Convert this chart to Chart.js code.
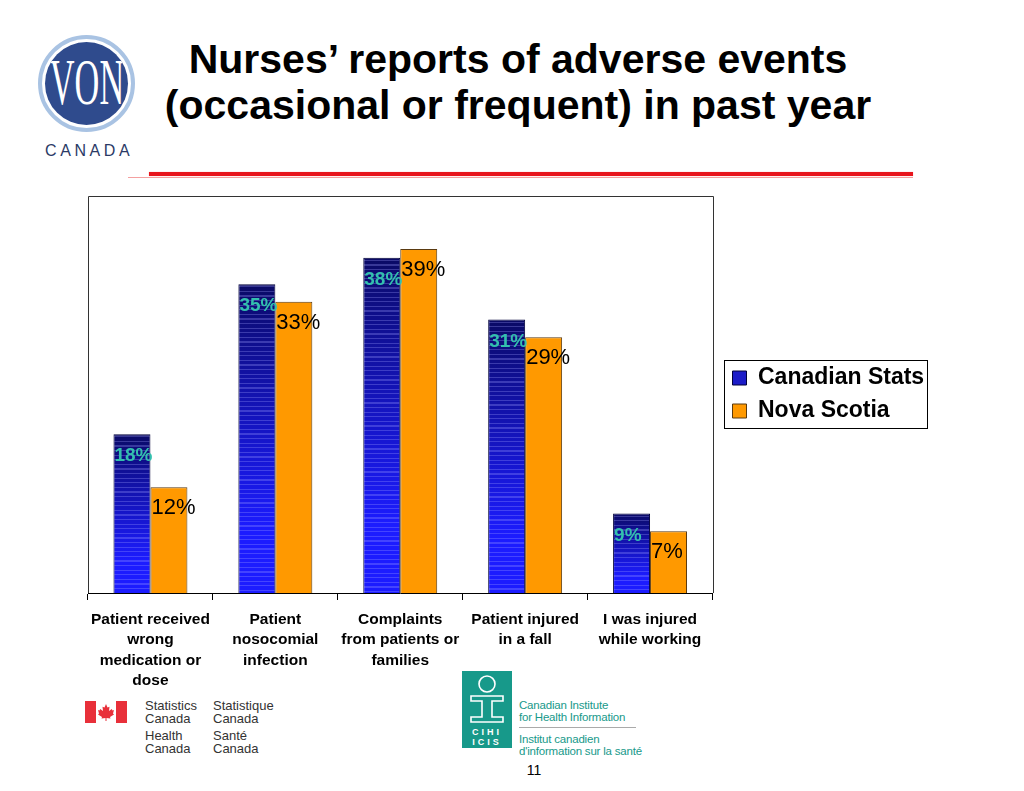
<!DOCTYPE html>
<html>
<head>
<meta charset="utf-8">
<script src="https://cdn.jsdelivr.net/npm/chart.js@4/dist/chart.umd.min.js"></script>
<style>
  html, body { margin:0; padding:0; background:#fff; }
  body { width:1024px; height:791px; position:relative; overflow:hidden; font-family:"Liberation Sans", Arial, sans-serif; }
  #c { position:absolute; left:0; top:0; z-index:2; }
  .abs { position:absolute; }
  #title { left:0; width:1036px; top:36px; text-align:center; font-weight:bold; font-size:41px; line-height:46px; color:#000; white-space:nowrap; }
  #rule1 { left:149px; top:172px; width:764px; height:4px; background:#e8141c; box-shadow:0 0 1px #f07070; }
  #rule2 { left:128px; top:177px; width:785px; height:1px; background:#f4a0a0; }
  #von { left:38px; top:35px; width:89px; height:89px; border-radius:50%; border:4px solid #a9c3e3; }
  #vonin { position:absolute; left:3px; top:3px; width:83px; height:83px; border-radius:50%; background:#2f4b8d; overflow:hidden; }
  #vontxt { position:absolute; left:-29px; top:7px; width:141px; text-align:center; font-family:"Liberation Serif", serif; font-size:66px; line-height:66px; color:#fff; transform:scaleX(0.52); }
  #canada { left:45px; top:143px; font-size:16px; line-height:16px; letter-spacing:3.6px; color:#2b3a66; font-family:"Liberation Sans", sans-serif; }
  .gov { font-size:13px; line-height:12.5px; color:#333; }
  #cihi { left:462px; top:671px; width:50px; height:77px; background:#17998a; }
  .cihit { font-size:11.5px; line-height:12px; color:#17998a; letter-spacing:-0.2px; }
  #pg { left:520px; top:762px; width:28px; text-align:center; font-size:14px; color:#000; }
</style>
</head>
<body>
<div id="title" class="abs">Nurses’ reports of adverse events<br>(occasional or frequent) in past year</div>
<div id="rule1" class="abs"></div>
<div id="rule2" class="abs"></div>

<div id="von" class="abs"><div id="vonin"><div id="vontxt">VON</div></div></div>
<div id="canada" class="abs">CANADA</div>

<svg class="abs" style="left:85px;top:701px" width="42" height="22" viewBox="0 0 42 22">
  <rect x="0" y="0" width="11" height="22" fill="#e8303a"/>
  <rect x="31" y="0" width="11" height="22" fill="#e8303a"/>
  <path d="M21 3 L22.5 6.5 L24.5 5.8 L24 10 L26.8 8 L27.5 9.5 L29 9 L28 12.5 L29 13.5 L25 16 L25.5 17.5 L21.5 17 L21.5 20 L20.5 20 L20.5 17 L16.5 17.5 L17 16 L13 13.5 L14 12.5 L13 9 L14.5 9.5 L15.2 8 L18 10 L17.5 5.8 L19.5 6.5 Z" fill="#e8303a"/>
</svg>
<div class="abs gov" style="left:145px;top:700px">Statistics<br>Canada</div>
<div class="abs gov" style="left:213px;top:700px">Statistique<br>Canada</div>
<div class="abs gov" style="left:145px;top:730px">Health<br>Canada</div>
<div class="abs gov" style="left:213px;top:730px">Santé<br>Canada</div>

<div id="cihi" class="abs">
  <svg width="50" height="77" viewBox="0 0 50 77" style="position:absolute;left:0;top:0">
    <circle cx="25" cy="13" r="8" fill="none" stroke="#fff" stroke-width="1.6"/>
    <path d="M9 25 H41 V30 H30 V46 H41 V51 H9 V46 H20 V30 H9 Z" fill="none" stroke="#fff" stroke-width="1.6"/>
    <text x="25" y="64" text-anchor="middle" font-family="Liberation Sans" font-weight="bold" font-size="9" fill="#fff" letter-spacing="3">CIHI</text>
    <text x="25" y="74" text-anchor="middle" font-family="Liberation Sans" font-weight="bold" font-size="9" fill="#fff" letter-spacing="3">ICIS</text>
  </svg>
</div>
<div class="abs cihit" style="left:519px;top:699px">Canadian Institute<br>for Health Information</div>
<div class="abs" style="left:519px;top:727px;width:117px;height:1px;background:#aaa"></div>
<div class="abs cihit" style="left:519px;top:733px">Institut canadien<br>d'information sur la santé</div>
<div id="pg" class="abs">11</div>

<canvas id="c" width="1024" height="791"></canvas>

<script>
// ---- data ----
const categories = [
  ["Patient received", "wrong", "medication or", "dose"],
  ["Patient", "nosocomial", "infection"],
  ["Complaints", "from patients or", "families"],
  ["Patient injured", "in a fall"],
  ["I was injured", "while working"]
];
const seriesNames = ["Canadian Stats", "Nova Scotia"];
const canadianStats = [18, 35, 38, 31, 9];
const novaScotia = [12, 33, 39, 29, 7];
const yMax = 45;

// ---- styling helpers ----
function mix(a, b, t) { return a.map((v, i) => Math.round(v + (b[i] - v) * t)); }
function rgb(c) { return 'rgb(' + c.join(',') + ')'; }
function blueFill(ctx) {
  const chart = ctx.chart;
  if (!chart.chartArea || ctx.type !== 'data' || !chart.scales.y) return '#1a1ad0';
  const ys = chart.scales.y;
  const top = ys.getPixelForValue(ctx.raw), bot = ys.getPixelForValue(0);
  const h = Math.max(bot - top, 1);
  const g = chart.ctx.createLinearGradient(0, top, 0, bot);
  const c0 = [10, 10, 100], c1 = [28, 28, 255];
  const f = t => Math.pow(Math.min(1, t / 0.8), 0.9);
  const base = t => rgb(mix(c0, c1, f(t)));
  const light = t => rgb(mix(mix(c0, c1, f(t)), [160, 160, 255], 0.3));
  g.addColorStop(0, base(0));
  for (let s = 2; s < h - 1; s += 4.6) {
    const a = s / h, b = Math.min((s + 1.2) / h, 1);
    g.addColorStop(a, base(a));
    g.addColorStop(a, light(a));
    g.addColorStop(b, light(b));
    g.addColorStop(b, base(b));
  }
  g.addColorStop(1, base(1));
  return g;
}

// keep the legend's vertical span equal to the plot area, so it centres on it
const legendSpanPlugin = {
  id: 'legendSpan',
  afterLayout(chart) {
    const lg = chart.legend, a = chart.chartArea;
    if (!lg || !a) return;
    lg.top = a.top;
    lg.bottom = a.bottom;
    lg.height = a.bottom - a.top;
  }
};

const framePlugin = {
  id: 'frame',
  beforeDatasetsDraw(chart) {
    const { ctx, chartArea: a } = chart;
    ctx.save();
    ctx.strokeStyle = '#333';
    ctx.lineWidth = 1;
    ctx.beginPath();
    ctx.moveTo(Math.round(a.left) + 0.5, a.bottom);
    ctx.lineTo(Math.round(a.left) + 0.5, Math.round(a.top) + 0.5);
    ctx.lineTo(Math.round(a.right) + 0.5, Math.round(a.top) + 0.5);
    ctx.lineTo(Math.round(a.right) + 0.5, a.bottom);
    ctx.stroke();
    ctx.restore();
  }
};

const labelPlugin = {
  id: 'vals',
  afterDatasetsDraw(chart) {
    const ctx = chart.ctx;
    ctx.save();
    ctx.textAlign = 'left';
    ctx.textBaseline = 'alphabetic';
    chart.data.datasets.forEach((ds, di) => {
      const meta = chart.getDatasetMeta(di);
      meta.data.forEach((bar, i) => {
        const left = bar.x - bar.width / 2;
        if (di === 0) { ctx.font = 'bold 19px "Liberation Sans", Arial'; ctx.fillStyle = '#33c0ae'; }
        else { ctx.font = '22px "Liberation Sans", Arial'; ctx.fillStyle = '#000'; }
        ctx.fillText(ds.data[i] + '%', left + 1, bar.y + 27);
      });
    });
    ctx.restore();
  }
};

const legendBoxPlugin = {
  id: 'legendBox',
  afterDraw(chart) {
    const lg = chart.legend;
    if (!lg || !lg.legendHitBoxes || !lg.legendHitBoxes.length) return;
    const hb = lg.legendHitBoxes;
    let l = Infinity, r = -Infinity, t = Infinity, b = -Infinity;
    hb.forEach(h => { l = Math.min(l, h.left); r = Math.max(r, h.left + h.width); t = Math.min(t, h.top); b = Math.max(b, h.top + h.height); });
    const ctx = chart.ctx;
    ctx.save();
    ctx.strokeStyle = '#000';
    ctx.lineWidth = 1;
    ctx.strokeRect(Math.round(l - 9) + 0.5, Math.round(t - 7) + 0.5, Math.round(r - l + 11), Math.round(b - t + 12));
    ctx.restore();
  }
};

new Chart(document.getElementById('c'), {
  type: 'bar',
  data: {
    labels: categories,
    datasets: [
      { label: seriesNames[0], data: canadianStats, backgroundColor: blueFill, borderColor: '#00003a', borderWidth: 1, yAxisID: 'y' },
      { label: seriesNames[1], data: novaScotia, backgroundColor: '#ff9900', borderColor: '#5a3a10', borderWidth: 1, yAxisID: 'y' }
    ]
  },
  options: {
    responsive: false,
    animation: false,
    devicePixelRatio: 1,
    layout: { padding: { left: 88, top: 196, right: 90, bottom: 0 } },
    datasets: { bar: { categoryPercentage: 0.592, barPercentage: 1.0 } },
    scales: {
      x: {
        grid: { display: true, drawOnChartArea: false, drawTicks: true, tickLength: 7, color: '#000', offset: true },
        border: { display: true, color: '#000', width: 1 },
        ticks: { color: '#000', font: { family: '"Liberation Sans", Arial', weight: 'bold', size: 15.5, lineHeight: 1.33 }, padding: 9, maxRotation: 0, autoSkip: false },
        afterFit(scale) { scale.height = 198; }
      },
      y: { display: false, min: 0, max: yMax },
      gap: {
        type: 'linear', position: 'right', display: true,
        ticks: { display: false }, grid: { display: false }, border: { display: false },
        afterFit(scale) { scale.width = 10; }
      }
    },
    plugins: {
      tooltip: { enabled: false },
      legend: {
        position: 'right',
        align: 'center',
        labels: {
          color: '#000',
          font: { family: '"Liberation Sans", Arial', weight: 'bold', size: 23 },
          boxWidth: 14, boxHeight: 14, padding: 10,
          generateLabels: () => [
            { text: seriesNames[0], fillStyle: '#1c1cc8', strokeStyle: '#00003a', lineWidth: 1, datasetIndex: 0, hidden: false },
            { text: seriesNames[1], fillStyle: '#ff9900', strokeStyle: '#5a3a10', lineWidth: 1, datasetIndex: 1, hidden: false }
          ]
        }
      }
    }
  },
  plugins: [legendSpanPlugin, framePlugin, labelPlugin, legendBoxPlugin]
});
</script>
</body>
</html>
